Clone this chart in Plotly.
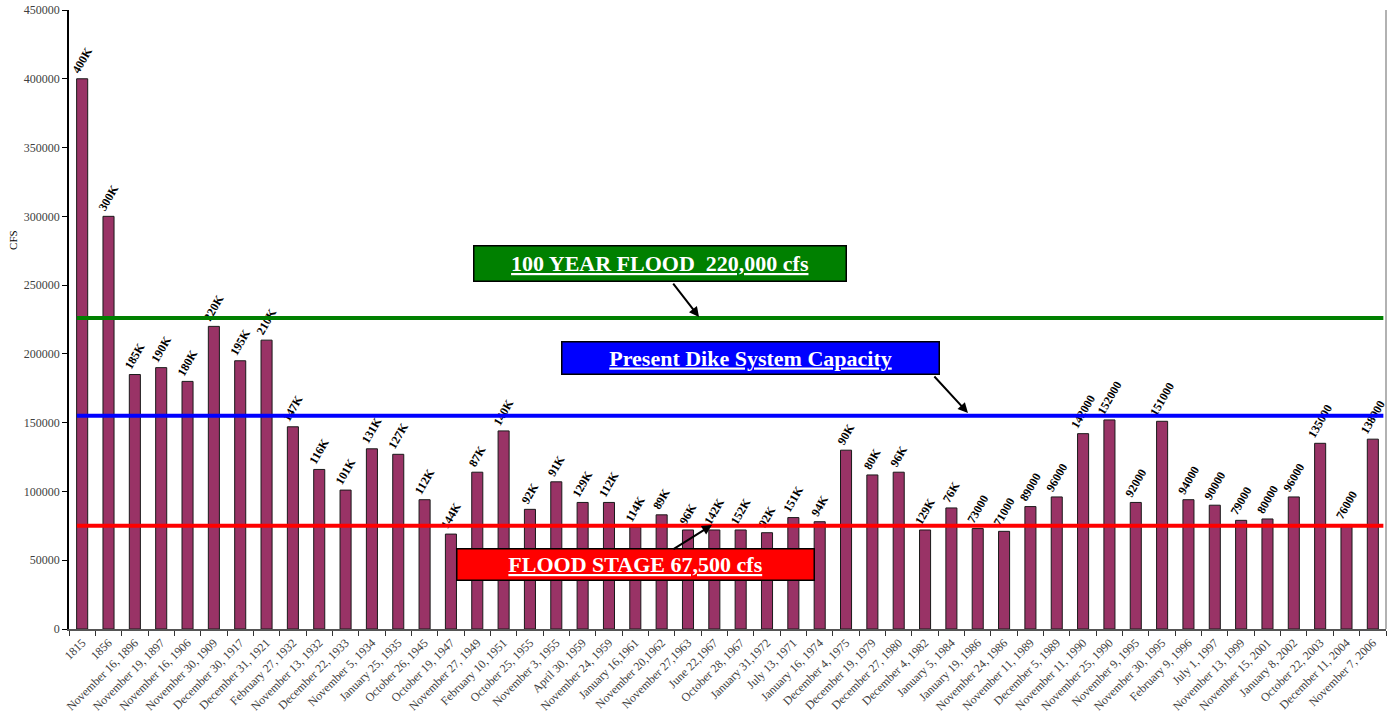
import plotly.graph_objects as go

dates = [
    "1815", "1856", "November 16, 1896", "November 19, 1897", "November 16, 1906",
    "November 30, 1909", "December 30, 1917", "December 31, 1921", "February 27, 1932",
    "November 13, 1932", "December 22, 1933", "November 5, 1934", "January 25, 1935",
    "October 26, 1945", "October 19, 1947", "November 27, 1949", "February 10, 1951",
    "October 25, 1955", "November 3, 1955", "April 30, 1959", "November 24, 1959",
    "January 16,1961", "November 20,1962", "November 27,1963", "June 22,1967",
    "October 28, 1967", "January 31,1972", "July 13, 1971", "January 16, 1974",
    "December 4, 1975", "December 19, 1979", "December 27, 1980", "December 4, 1982",
    "January 5, 1984", "January 19, 1986", "November 24, 1986", "November 11, 1989",
    "December 5, 1989", "November 11, 1990", "November 25, 1990", "November 9, 1995",
    "November 30, 1995", "February 9, 1996", "July 1, 1997", "November 13, 1999",
    "November 15, 2001", "January 8, 2002", "October 22, 2003", "December 11, 2004",
    "November 7, 2006",
]

flows = [
    400000, 300000, 185000, 190000, 180000, 220000, 195000, 210000, 147000, 116000,
    101000, 131000, 127000, 94000, 69000, 114000, 144000, 87000, 107000, 92000,
    92000, 74000, 83000, 72000, 72000, 72000, 70000, 81000, 78000, 130000,
    112000, 114000, 72000, 88000, 73000, 71000, 89000, 96000, 142000, 152000,
    92000, 151000, 94000, 90000, 79000, 80000, 96000, 135000, 76000, 138000,
]

bar_labels = [
    "400K", "300K", "185K", "190K", "180K", "220K", "195K", "210K", "147K", "116K",
    "101K", "131K", "127K", "112K", "144K", "87K", "140K", "92K", "91K", "129K",
    "112K", "114K", "89K", "96K", "142K", "152K", "92K", "151K", "94K", "90K",
    "80K", "96K", "129K", "76K", "73000", "71000", "89000", "96000", "142000", "152000",
    "92000", "151000", "94000", "90000", "79000", "80000", "96000", "135000", "76000", "138000",
]

y_ticks = [0, 50000, 100000, 150000, 200000, 250000, 300000, 350000, 400000, 450000]

ref_levels = [226000, 155000, 75000]
ref_colors = ["#008000", "#0000ff", "#ff0000"]
ref_texts = ["100 YEAR FLOOD  220,000 cfs", "Present Dike System Capacity", "FLOOD STAGE 67,500 cfs"]

SERIF = "Liberation Serif, Times New Roman, serif"

fig = go.Figure()
fig.add_trace(go.Bar(
    x=dates, y=flows, text=bar_labels,
    textposition="outside", textangle=-60, constraintext="none", cliponaxis=False,
    textfont=dict(family=SERIF, size=12, color="#000000", weight="bold"),
    marker=dict(color="#993366", line=dict(color="#1a1a1a", width=1)),
    width=0.42,
))

shapes = []
for lvl, col in zip(ref_levels, ref_colors):
    shapes.append(dict(type="line", xref="paper", yref="y", x0=0.006, x1=0.998,
                       y0=lvl, y1=lvl, line=dict(color=col, width=4), layer="above"))
shapes.append(dict(type="line", xref="paper", yref="paper", x0=1, x1=1, y0=0, y1=1,
                   line=dict(color="#999999", width=1.5), layer="above"))

# Callout boxes: (center x paper, center y paper, width, height)
boxes = [(0.4484, 0.5897, 371, 34), (0.5178, 0.437, 376, 31), (0.4305, 0.1034, 356, 30)]
annotations = []
for (bx, by, bw, bh), txt, col in zip(boxes, ref_texts, ref_colors):
    annotations.append(dict(
        xref="paper", yref="paper", x=bx, y=by, xanchor="center", yanchor="middle",
        text="<b><u>" + txt + "</u></b>", showarrow=False,
        font=dict(family=SERIF, size=22, color="#ffffff"),
        bgcolor=col, bordercolor="#000000", borderwidth=1.5, borderpad=0,
        width=bw, height=bh,
    ))

arrows = [(0.4784, 0.504, -27, -35), (0.6826, 0.349, -35, -38), (0.4882, 0.168, -40, 25)]
for hx, hy, ax, ay in arrows:
    annotations.append(dict(
        xref="paper", yref="paper", x=hx, y=hy, ax=ax, ay=ay, text="",
        showarrow=True, arrowhead=2, arrowsize=1, arrowwidth=2, arrowcolor="#000000",
    ))

annotations.append(dict(
    xref="paper", yref="paper", x=-0.042, y=0.628, text="CFS", textangle=-90,
    showarrow=False, font=dict(family=SERIF, size=11, color="#000000"),
    xanchor="center", yanchor="middle",
))

fig.update_layout(
    width=1396, height=719,
    margin=dict(l=69, r=10, t=10, b=90),
    paper_bgcolor="#ffffff", plot_bgcolor="#ffffff",
    showlegend=False,
    shapes=shapes, annotations=annotations,
    bargap=0.58,
    xaxis=dict(
        type="category", tickangle=-45, ticks="outside", tickson="boundaries",
        ticklen=5, tickcolor="#333333", tickwidth=1, automargin=False,
        showline=True, linecolor="#555555", linewidth=2,
        tickfont=dict(family=SERIF, size=12, color="#404040"),
        showgrid=False, range=[-0.5, len(dates) - 0.5],
    ),
    yaxis=dict(
        range=[0, 450000], tickvals=y_ticks, ticktext=[str(v) for v in y_ticks],
        ticks="outside", ticklen=5, tickcolor="#000000", automargin=False,
        showline=True, linecolor="#000000", linewidth=1.5,
        tickfont=dict(family=SERIF, size=12, color="#404040"),
        showgrid=False, zeroline=False,
    ),
)

fig.write_html(
    "out.html",
    config={"displayModeBar": False},
    post_script="document.body.style.margin='0';document.body.style.overflow='hidden';",
)
